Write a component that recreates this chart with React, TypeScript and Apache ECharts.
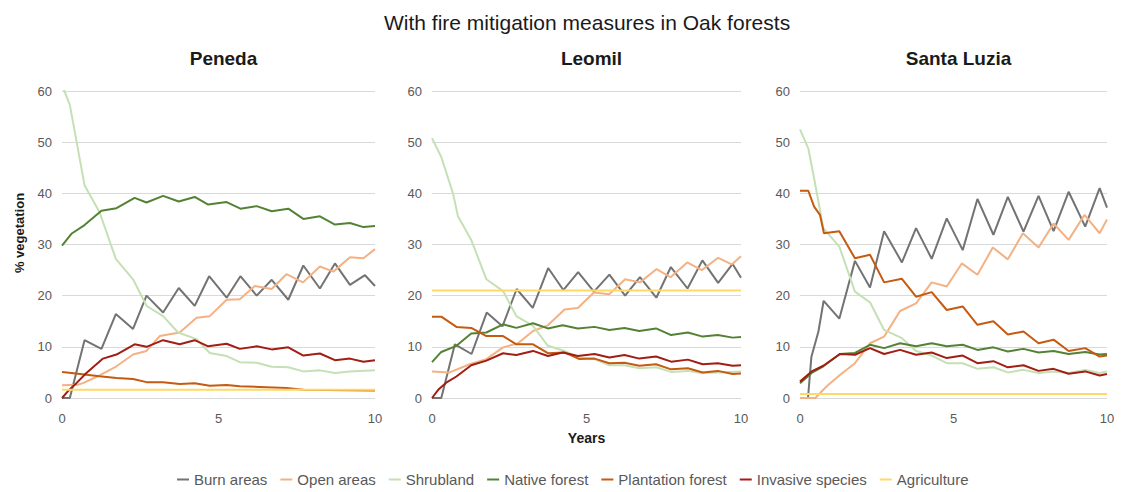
import React, { useEffect, useRef } from "react";
import * as echarts from "echarts";

type P = [number, number];

const seriesNames = ["Burn areas", "Open areas", "Shrubland", "Native forest", "Plantation forest", "Invasive species", "Agriculture"];
const seriesColors = ["#737373", "#F4B183", "#C5E0B4", "#548235", "#C55A11", "#A01E14", "#FFD966"];
const panelTitles = ["Peneda", "Leomil", "Santa Luzia"];
const xTicks = [0, 5, 10];
const yTicks = [0, 10, 20, 30, 40, 50, 60];

// Peneda
const penedaBurn: P[] = [[0,0],[0.25,0],[0.72,11.3],[1.26,9.6],[1.72,16.4],[2.27,13.5],[2.7,20.0],[3.23,16.7],[3.73,21.5],[4.24,18.0],[4.7,23.8],[5.26,19.6],[5.7,23.8],[6.22,20.0],[6.7,23.1],[7.23,19.2],[7.71,25.9],[8.24,21.4],[8.72,26.3],[9.2,22.1],[9.68,24.0],[10,21.9]];
const penedaOpen: P[] = [[0,2.5],[0.5,2.6],[0.67,2.9],[1.2,4.4],[1.74,6.2],[2.27,8.5],[2.7,9.2],[3.12,12.1],[3.76,12.8],[4.3,15.7],[4.72,16.0],[5.26,19.2],[5.68,19.3],[6.16,21.9],[6.7,21.3],[7.17,24.2],[7.7,22.6],[8.24,25.7],[8.67,24.7],[9.2,27.5],[9.63,27.3],[10,29.1]];
const penedaShrub: P[] = [[0,61.2],[0.25,57.3],[0.72,41.6],[1.2,36.3],[1.72,27.2],[2.27,23.2],[2.7,18.0],[3.23,16.0],[3.71,12.8],[4.3,11.5],[4.72,8.8],[5.26,8.2],[5.68,7.0],[6.22,6.9],[6.7,6.1],[7.23,6.0],[7.71,5.2],[8.24,5.4],[8.72,4.9],[9.2,5.2],[10,5.4]];
const penedaNative: P[] = [[0,29.8],[0.3,32.1],[0.72,33.8],[1.26,36.6],[1.74,37.1],[2.32,39.1],[2.7,38.2],[3.23,39.5],[3.73,38.4],[4.24,39.3],[4.67,37.8],[5.26,38.3],[5.7,37.0],[6.22,37.5],[6.7,36.5],[7.23,37.0],[7.71,35.0],[8.24,35.5],[8.72,33.9],[9.2,34.2],[9.63,33.4],[10,33.6]];
const penedaPlant: P[] = [[0,5.1],[0.3,4.9],[1.2,4.25],[1.74,3.9],[2.27,3.7],[2.7,3.1],[3.23,3.1],[3.76,2.75],[4.24,2.9],[4.72,2.4],[5.26,2.55],[5.68,2.3],[6.3,2.15],[7.17,1.95],[7.71,1.6],[9.2,1.5],[10,1.45]];
const penedaInv: P[] = [[0,0],[0.2,1.4],[0.46,2.9],[0.78,4.9],[1.31,7.7],[1.74,8.5],[2.32,10.5],[2.7,10.0],[3.23,11.3],[3.76,10.5],[4.24,11.3],[4.67,10.1],[5.26,10.6],[5.68,9.6],[6.22,10.1],[6.7,9.5],[7.23,9.9],[7.71,8.3],[8.24,8.7],[8.72,7.4],[9.2,7.7],[9.63,7.1],[10,7.4]];
const penedaAgri: P[] = [[0,1.6],[10,1.6]];

// Leomil
const leomilBurn: P[] = [[0,0],[0.3,0],[0.74,10.5],[1.28,8.6],[1.77,16.7],[2.28,14.0],[2.74,21.3],[3.26,17.6],[3.76,25.4],[4.25,21.1],[4.73,24.6],[5.24,20.8],[5.74,24.1],[6.25,20.0],[6.73,23.6],[7.26,19.6],[7.73,25.6],[8.27,21.4],[8.75,26.9],[9.26,22.5],[9.73,26.2],[10,23.5]];
const leomilOpen: P[] = [[0,5.2],[0.57,5.0],[1.22,6.6],[1.76,7.6],[2.3,9.9],[2.78,10.7],[3.27,13.1],[3.75,14.2],[4.29,17.3],[4.72,17.6],[5.24,20.6],[5.74,20.3],[6.25,23.2],[6.73,22.6],[7.27,25.2],[7.72,23.6],[8.26,26.5],[8.73,25.0],[9.26,27.4],[9.7,26.1],[10,27.7]];
const leomilShrub: P[] = [[0,50.8],[0.3,47.1],[0.68,40.0],[0.84,35.5],[1.27,30.9],[1.76,23.2],[2.3,20.9],[2.73,16.0],[3.27,14.1],[3.75,10.2],[4.29,9.2],[4.77,7.9],[5.26,7.6],[5.74,6.4],[6.23,6.4],[6.71,5.8],[7.25,6.0],[7.74,5.1],[8.28,5.3],[8.71,4.9],[9.3,5.0],[10,5.2]];
const leomilNative: P[] = [[0,7.0],[0.3,9.0],[0.79,10.2],[1.27,12.6],[1.76,12.8],[2.3,14.4],[2.73,13.7],[3.27,14.6],[3.75,13.6],[4.23,14.2],[4.72,13.6],[5.26,13.9],[5.74,13.3],[6.23,13.7],[6.71,13.1],[7.25,13.6],[7.74,12.3],[8.28,12.8],[8.76,12.0],[9.25,12.3],[9.73,11.8],[10,11.9]];
const leomilPlant: P[] = [[0,15.9],[0.3,15.9],[0.79,13.9],[1.27,13.7],[1.76,12.1],[2.3,12.1],[2.73,10.5],[3.27,10.5],[3.75,8.75],[4.29,8.9],[4.77,7.6],[5.26,7.7],[5.74,6.8],[6.23,6.9],[6.71,6.3],[7.25,6.6],[7.74,5.6],[8.28,5.8],[8.76,5.0],[9.25,5.3],[9.73,4.7],[10,4.8]];
const leomilInv: P[] = [[0,0],[0.2,1.6],[0.46,3.0],[0.79,4.2],[1.27,6.4],[1.76,7.3],[2.3,8.75],[2.73,8.4],[3.27,9.2],[3.75,8.2],[4.23,8.9],[4.72,8.2],[5.26,8.6],[5.74,7.9],[6.23,8.4],[6.71,7.7],[7.25,8.1],[7.74,7.1],[8.28,7.5],[8.76,6.6],[9.25,6.8],[9.73,6.3],[10,6.4]];
const leomilAgri: P[] = [[0,21.0],[10,21.0]];

// Santa Luzia
const luziaBurn: P[] = [[0,0],[0.26,0],[0.37,8.0],[0.6,13.0],[0.77,19.0],[1.28,15.5],[1.79,26.8],[2.28,21.6],[2.74,32.6],[3.32,26.5],[3.78,33.2],[4.29,27.2],[4.78,35.1],[5.3,28.9],[5.78,38.9],[6.3,31.9],[6.77,39.3],[7.28,32.5],[7.77,39.5],[8.26,32.6],[8.75,40.3],[9.29,33.5],[9.76,41.0],[10,37.2]];
const luziaOpen: P[] = [[0,0],[0.5,0],[0.87,2.3],[1.3,4.5],[1.79,6.8],[2.28,10.7],[2.74,12.0],[3.26,17.0],[3.78,18.5],[4.29,22.6],[4.78,21.8],[5.27,26.3],[5.78,24.1],[6.28,29.4],[6.77,27.1],[7.26,32.2],[7.77,29.4],[8.26,34.1],[8.75,30.9],[9.27,35.8],[9.76,32.2],[10,34.9]];
const luziaShrub: P[] = [[0,52.5],[0.27,48.8],[0.46,42.9],[0.76,33.2],[1.28,29.6],[1.79,20.8],[2.28,18.7],[2.74,13.3],[3.32,11.7],[3.78,9.2],[4.29,8.3],[4.78,6.8],[5.3,6.8],[5.78,5.7],[6.3,6.0],[6.77,5.0],[7.28,5.5],[7.77,4.9],[8.26,5.2],[8.75,4.9],[9.29,5.5],[9.76,4.9],[10,5.2]];
const luziaNative: P[] = [[0,2.9],[0.38,4.9],[0.76,6.2],[1.3,8.6],[1.79,8.8],[2.28,10.4],[2.74,9.75],[3.26,10.7],[3.78,10.1],[4.29,10.7],[4.78,10.1],[5.3,10.4],[5.78,9.4],[6.3,9.9],[6.77,9.1],[7.28,9.6],[7.77,8.9],[8.26,9.2],[8.75,8.6],[9.29,9.0],[9.76,8.5],[10,8.6]];
const luziaPlant: P[] = [[0,40.5],[0.27,40.5],[0.46,37.4],[0.65,35.8],[0.78,32.2],[1.28,32.6],[1.79,27.3],[2.28,28.0],[2.74,22.6],[3.32,23.3],[3.78,19.8],[4.29,20.7],[4.78,17.2],[5.3,17.9],[5.78,14.3],[6.3,15.0],[6.77,12.4],[7.28,13.0],[7.77,10.7],[8.26,11.4],[8.75,9.2],[9.29,9.75],[9.76,8.1],[10,8.3]];
const luziaInv: P[] = [[0,3.2],[0.38,5.2],[0.76,6.3],[1.3,8.6],[1.79,8.45],[2.28,9.75],[2.74,8.6],[3.26,9.4],[3.78,8.45],[4.29,8.9],[4.78,7.8],[5.3,8.3],[5.78,6.8],[6.3,7.2],[6.77,6.0],[7.28,6.4],[7.77,5.3],[8.26,5.7],[8.75,4.75],[9.29,5.2],[9.76,4.4],[10,4.7]];
const luziaAgri: P[] = [[0,0.8],[10,0.8]];

const panelData: P[][][] = [
  [penedaBurn, penedaOpen, penedaShrub, penedaNative, penedaPlant, penedaInv, penedaAgri],
  [leomilBurn, leomilOpen, leomilShrub, leomilNative, leomilPlant, leomilInv, leomilAgri],
  [luziaBurn, luziaOpen, luziaShrub, luziaNative, luziaPlant, luziaInv, luziaAgri],
];

const grids = [
  { left: 62, width: 313 },
  { left: 432, width: 309 },
  { left: 800, width: 307 },
];
const gridTop = 91;
const gridHeight = 307;

export default function App() {
  const ref = useRef<HTMLDivElement>(null);
  useEffect(() => {
    if (!ref.current) return;
    const chart = echarts.init(ref.current, null, { renderer: "svg" });
    const axisLabel = { color: "#595959", fontSize: 13, fontFamily: "Liberation Sans, Arial, sans-serif" };
    const series: any[] = [];
    panelData.forEach((panel, pi) => {
      panel.forEach((data, si) => {
        series.push({
          name: seriesNames[si],
          type: "line",
          xAxisIndex: pi,
          yAxisIndex: pi,
          data,
          symbol: "none",
          showSymbol: false,
          lineStyle: { width: 2, color: seriesColors[si] },
          itemStyle: { color: seriesColors[si] },
          emphasis: { disabled: true },
        });
      });
    });
    chart.setOption({
      animation: false,
      backgroundColor: "#ffffff",
      textStyle: { fontFamily: "Liberation Sans, Arial, sans-serif" },
      title: [
        {
          text: "With fire mitigation measures in Oak forests",
          left: 379,
          top: 7,
          textStyle: { fontSize: 21, fontWeight: "normal", color: "#1a1a1a" },
        },
        ...panelTitles.map((t, i) => ({
          text: t,
          left: grids[i].left + grids[i].width / 2,
          textAlign: "center",
          top: 44,
          textStyle: { fontSize: 19, fontWeight: "bold", color: "#1a1a1a" },
        })),
      ],
      graphic: [
        {
          type: "text",
          x: 19,
          y: 233,
          rotation: Math.PI / 2,
          style: {
            text: "% vegetation",
            fill: "#1a1a1a",
            font: "bold 13px Liberation Sans, Arial, sans-serif",
            textAlign: "center",
            textVerticalAlign: "middle",
          },
        },
      ],
      legend: {
        data: seriesNames,
        left: 172,
        top: 467,
        icon: "rect",
        itemWidth: 12,
        itemHeight: 2,
        itemGap: 13,
        textStyle: { fontSize: 15, color: "#595959" },
      },
      grid: grids.map((g) => ({ left: g.left, width: g.width, top: gridTop, height: gridHeight })),
      xAxis: grids.map((g, i) => ({
        type: "value",
        gridIndex: i,
        min: xTicks[0],
        max: xTicks[xTicks.length - 1],
        interval: 5,
        axisLine: { show: false },
        axisTick: { show: false },
        splitLine: { show: false },
        axisLabel: { ...axisLabel, margin: 14 },
        name: i === 1 ? "Years" : "",
        nameLocation: "middle",
        nameGap: 33,
        nameTextStyle: { fontSize: 14, fontWeight: "bold", color: "#1a1a1a" },
      })),
      yAxis: grids.map((g, i) => ({
        type: "value",
        gridIndex: i,
        min: yTicks[0],
        max: yTicks[yTicks.length - 1],
        interval: 10,
        axisLine: { show: false },
        axisTick: { show: false },
        splitLine: { show: true, lineStyle: { color: "#d9d9d9", width: 1 } },
        axisLabel: { ...axisLabel, margin: 10 },
      })),
      series,
    });
    return () => chart.dispose();
  }, []);
  return <div ref={ref} style={{ position: "fixed", left: 0, top: 0, width: 1121, height: 492 }} />;
}
